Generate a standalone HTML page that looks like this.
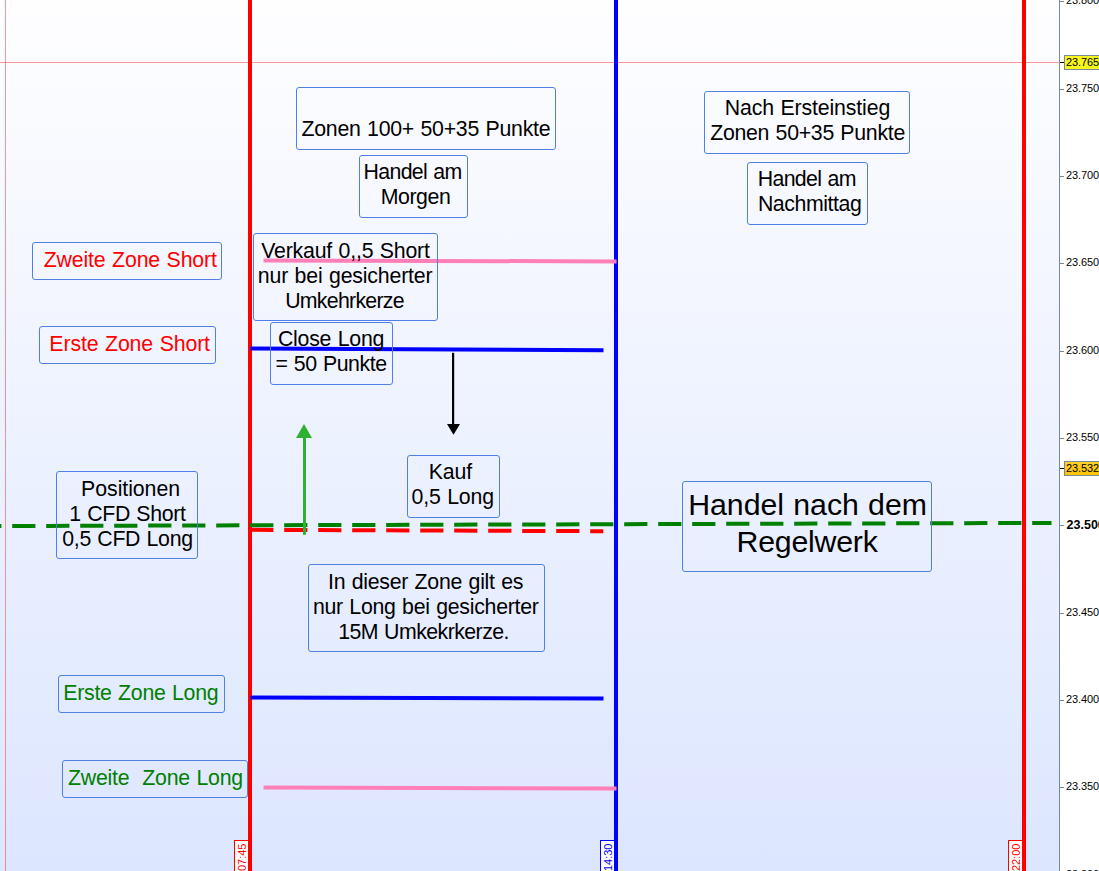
<!DOCTYPE html>
<html lang="de"><head><meta charset="utf-8"><title>Handel nach dem Regelwerk</title>
<style>
html,body{margin:0;padding:0;background:#fff;}
body{width:1099px;height:871px;overflow:hidden;position:relative;font-family:"Liberation Sans",Arial,sans-serif;}
#chart{position:absolute;left:0;top:0;width:1059px;height:871px;background:linear-gradient(to bottom,#fefeff 0%,#dce6ff 100%);overflow:hidden;}
#axis{position:absolute;left:1059px;top:0;width:40px;height:871px;background:#fff;border-left:1px solid #788a9a;box-sizing:border-box;overflow:hidden;font-size:11px;}
svg{position:absolute;left:0;top:0;}
.box{position:absolute;box-sizing:border-box;border:1px solid #4f80e6;border-radius:3px;}
.ln{position:absolute;white-space:pre;word-spacing:0.8px;line-height:25px;height:25px;margin:0;}
.tick{position:absolute;left:0;width:4px;height:1px;background:#788a9a;}
.pl{position:absolute;left:6px;letter-spacing:-0.12px;white-space:pre;line-height:13px;height:13px;color:#000;}
.tag{position:absolute;left:4px;width:40px;height:15px;box-sizing:border-box;border:1px solid #788a9a;}
.tl{position:absolute;box-sizing:border-box;width:14px;height:40px;background:#fff;font-size:11px;overflow:hidden;border-right:none !important;}
.tl span{position:absolute;left:0;top:0;white-space:pre;line-height:12px;transform-origin:0 0;transform:rotate(-90deg);}

</style></head><body>
<div id="chart">
<svg width="1059" height="871" viewBox="0 0 1059 871" shape-rendering="auto">
<rect x="5" y="0" width="1" height="871" fill="#ff0000" fill-opacity="0.4"/>
<rect x="0" y="62" width="1059" height="1" fill="#ff0000" fill-opacity="0.4"/>
<rect x="248" y="0" width="4" height="871" fill="#ff0000"/>
<rect x="614" y="0" width="4" height="871" fill="#0000ff"/>
<rect x="1022" y="0" width="4" height="871" fill="#ff0000"/>
<line x1="250.5" y1="348.5" x2="603.5" y2="350.3" stroke="#0000ff" stroke-width="4"/>
<line x1="250.5" y1="697.5" x2="603.5" y2="698.5" stroke="#0000ff" stroke-width="4"/>
<line x1="263.5" y1="260.5" x2="616.5" y2="261.4" stroke="#ff80b8" stroke-width="4"/>
<line x1="263.5" y1="787.5" x2="616.5" y2="788.5" stroke="#ff80b8" stroke-width="4"/>
<line x1="-21.8" y1="526.1" x2="1051.5" y2="522.9" stroke="#008000" stroke-width="4" stroke-dasharray="23.2 10.8"/>
<line x1="250.2" y1="529.8" x2="603.3" y2="531.2" stroke="#ff0000" stroke-width="4" stroke-dasharray="23.2 10.8"/>
<line x1="304.5" y1="437" x2="304.5" y2="534.8" stroke="#30b030" stroke-width="3"/>
<polygon points="304,424 296,438 312,438" fill="#30b030"/>
<line x1="453.1" y1="352.8" x2="453.1" y2="425" stroke="#000" stroke-width="2.2"/>
<polygon points="447,424 460,424 453.5,434.8" fill="#000"/>
</svg>
<div class="tl" style="left:234px;top:840px;border:1px solid #ff0000;color:#ff0000"><span style="transform:translate(1px,30.1px) rotate(-90deg)">07:45</span></div>
<div class="tl" style="left:600px;top:840px;border:1px solid #0000ff;color:#0000ff"><span style="transform:translate(1px,30.1px) rotate(-90deg)">14:30</span></div>
<div class="tl" style="left:1008px;top:840px;border:1px solid #ff0000;color:#ff0000"><span style="transform:translate(1px,30.1px) rotate(-90deg)">22:00</span></div>
<div class="box" style="left:296px;top:87px;width:260px;height:63px;color:#000;font-size:21.3px">
<div class="ln" style="left:4.44px;top:29px;line-height:25px;height:25px;letter-spacing:-0.251px">Zonen 100+ 50+35 Punkte</div>
</div>
<div class="box" style="left:359px;top:155px;width:109px;height:63px;color:#000;font-size:21.3px">
<div class="ln" style="left:3.40px;top:4px;line-height:25px;height:25px;letter-spacing:-0.611px">Handel am</div>
<div class="ln" style="left:20.64px;top:29px;line-height:25px;height:25px;letter-spacing:-0.397px">Morgen</div>
</div>
<div class="box" style="left:253px;top:233px;width:185px;height:88px;color:#000;font-size:21.3px">
<div class="ln" style="left:7.27px;top:5px;line-height:25px;height:25px;letter-spacing:-0.205px">Verkauf 0,,5 Short</div>
<div class="ln" style="left:3.80px;top:30px;line-height:25px;height:25px;letter-spacing:-0.179px">nur bei gesicherter</div>
<div class="ln" style="left:31.21px;top:55px;line-height:25px;height:25px;letter-spacing:-0.727px">Umkehrkerze</div>
</div>
<div class="box" style="left:270px;top:322px;width:123px;height:63px;color:#000;font-size:21.3px">
<div class="ln" style="left:6.95px;top:4px;line-height:25px;height:25px;letter-spacing:-0.231px">Close Long</div>
<div class="ln" style="left:4.53px;top:29px;line-height:25px;height:25px;letter-spacing:-0.433px">= 50 Punkte</div>
</div>
<div class="box" style="left:32px;top:242px;width:190px;height:38px;color:#f00;font-size:21.3px">
<div class="ln" style="left:10.75px;top:5px;line-height:25px;height:25px;letter-spacing:-0.156px">Zweite Zone Short</div>
</div>
<div class="box" style="left:39px;top:326px;width:177px;height:38px;color:#f00;font-size:21.3px">
<div class="ln" style="left:9.37px;top:5px;line-height:25px;height:25px;letter-spacing:-0.128px">Erste Zone Short</div>
</div>
<div class="box" style="left:56px;top:471px;width:142px;height:88px;color:#000;font-size:21.3px">
<div class="ln" style="left:24.12px;top:5px;line-height:25px;height:25px;letter-spacing:-0.060px">Positionen</div>
<div class="ln" style="left:12.23px;top:30px;line-height:25px;height:25px;letter-spacing:-0.321px">1 CFD Short</div>
<div class="ln" style="left:5.25px;top:55px;line-height:25px;height:25px;letter-spacing:-0.310px">0,5 CFD Long</div>
</div>
<div class="box" style="left:58px;top:675px;width:167px;height:38px;color:#008000;font-size:21.3px">
<div class="ln" style="left:4.32px;top:5px;line-height:25px;height:25px;letter-spacing:-0.269px">Erste Zone Long</div>
</div>
<div class="box" style="left:62px;top:760px;width:186px;height:38px;color:#008000;font-size:21.3px">
<div class="ln" style="left:5.01px;top:5px;line-height:25px;height:25px;letter-spacing:-0.230px">Zweite  Zone Long</div>
</div>
<div class="box" style="left:407px;top:455px;width:93px;height:63px;color:#000;font-size:21.3px">
<div class="ln" style="left:20.73px;top:4px;line-height:25px;height:25px;letter-spacing:-0.108px">Kauf</div>
<div class="ln" style="left:3.61px;top:29px;line-height:25px;height:25px;letter-spacing:-0.190px">0,5 Long</div>
</div>
<div class="box" style="left:308px;top:564px;width:237px;height:88px;color:#000;font-size:21.3px">
<div class="ln" style="left:19.01px;top:5px;line-height:25px;height:25px;letter-spacing:-0.260px">In dieser Zone gilt es</div>
<div class="ln" style="left:3.96px;top:30px;line-height:25px;height:25px;letter-spacing:-0.269px">nur Long bei gesicherter</div>
<div class="ln" style="left:29.15px;top:55px;line-height:25px;height:25px;letter-spacing:-0.544px">15M Umkekrkerze.</div>
</div>
<div class="box" style="left:704px;top:91px;width:206px;height:63px;color:#000;font-size:21.3px">
<div class="ln" style="left:19.83px;top:4px;line-height:25px;height:25px;letter-spacing:-0.144px">Nach Ersteinstieg</div>
<div class="ln" style="left:5.21px;top:29px;line-height:25px;height:25px;letter-spacing:-0.289px">Zonen 50+35 Punkte</div>
</div>
<div class="box" style="left:747px;top:162px;width:121px;height:63px;color:#000;font-size:21.3px">
<div class="ln" style="left:9.69px;top:4px;line-height:25px;height:25px;letter-spacing:-0.635px">Handel am</div>
<div class="ln" style="left:9.91px;top:29px;line-height:25px;height:25px;letter-spacing:-0.431px">Nachmittag</div>
</div>
<div class="box" style="left:682px;top:481px;width:250px;height:91px;color:#000;font-size:30.3px">
<div class="ln" style="left:5.15px;top:4px;line-height:37px;height:37px;letter-spacing:-0.018px">Handel nach dem</div>
<div class="ln" style="left:53.59px;top:41px;line-height:37px;height:37px;letter-spacing:-0.241px">Regelwerk</div>
</div>
</div>
<div id="axis">
<div class="tick" style="top:1px"></div>
<div class="pl" style="top:-6px;">23.800</div>
<div class="tick" style="top:89px"></div>
<div class="pl" style="top:82px;">23.750</div>
<div class="tick" style="top:176px"></div>
<div class="pl" style="top:169px;">23.700</div>
<div class="tick" style="top:263px"></div>
<div class="pl" style="top:256px;">23.650</div>
<div class="tick" style="top:351px"></div>
<div class="pl" style="top:344px;">23.600</div>
<div class="tick" style="top:438px"></div>
<div class="pl" style="top:431px;">23.550</div>
<div class="tick" style="top:525px"></div>
<div class="pl" style="top:519px;font-weight:bold;font-size:12.5px;letter-spacing:0;left:6.6px;">23.500</div>
<div class="tick" style="top:613px"></div>
<div class="pl" style="top:606px;">23.450</div>
<div class="tick" style="top:700px"></div>
<div class="pl" style="top:693px;">23.400</div>
<div class="tick" style="top:787px"></div>
<div class="pl" style="top:780px;">23.350</div>
<div class="tick" style="top:875px"></div>
<div class="pl" style="top:868px;">23.300</div>
<div class="tag" style="top:55px;background:#f6f61a"></div><div class="tick" style="top:62px;background:#000"></div><div class="pl" style="top:56px">23.765</div>
<div class="tag" style="top:461px;background:linear-gradient(to bottom,#ffd028,#fbc403)"></div><div class="tick" style="top:468px;background:#000"></div><div class="pl" style="top:462px">23.532</div>
</div>
</body></html>
